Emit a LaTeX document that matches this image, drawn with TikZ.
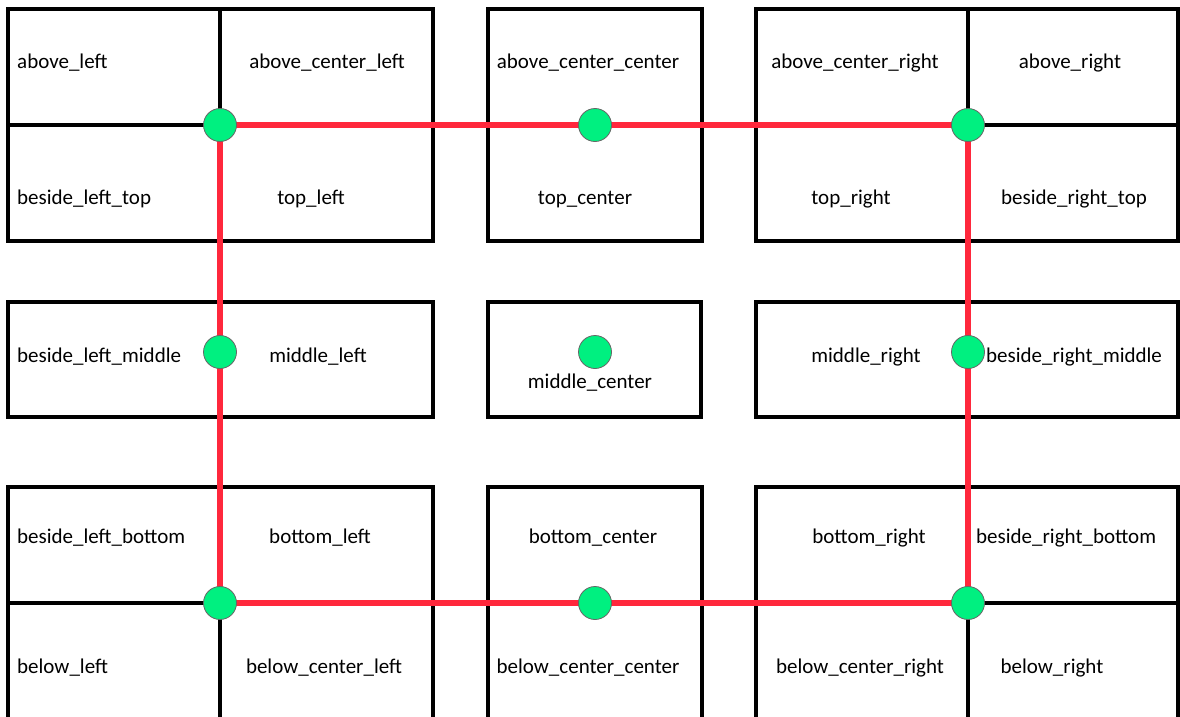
\documentclass[tikz,border=0pt]{standalone}
\usepackage{fontspec}
\setmainfont{Carlito}
\begin{document}
\begin{tikzpicture}[x=1pt,y=-1pt,
  box/.style={draw=black,line width=3.5pt},
  lbl/.style={anchor=base,inner sep=0pt,font=\fontsize{21}{24}\selectfont},
  lbll/.style={anchor=base west,inner sep=0pt,font=\fontsize{21}{24}\selectfont},
  dot/.style={circle,draw=black!60,line width=0.8pt,fill={rgb,255:red,0;green,240;blue,128},minimum size=33pt,inner sep=0pt},
  route/.style={draw={rgb,255:red,255;green,40;blue,60},line width=6pt}]
\useasboundingbox (0,0) rectangle (1180,717);
\begin{scope}
\clip (0,0) rectangle (1180,717);
% top row
\draw[box] (8,9) rectangle (433,241);
\draw[box] (220,9) -- (220,241) (8,125) -- (433,125);
\draw[box] (488,9) rectangle (702,241);
\draw[box] (756,9) rectangle (1178,241);
\draw[box] (968,9) -- (968,241) (756,125) -- (1178,125);
% middle row
\draw[box] (8,302) rectangle (433,417);
\draw[box] (488,302) rectangle (701,417);
\draw[box] (756,302) rectangle (1178,417);
% bottom row
\draw[box] (8,487) rectangle (433,740);
\draw[box] (220,487) -- (220,740) (8,603) -- (433,603);
\draw[box] (488,487) rectangle (702,740);
\draw[box] (756,487) rectangle (1178,740);
\draw[box] (968,487) -- (968,740) (756,603) -- (1178,603);
\end{scope}
% labels
\node[lbll] (t1) at (17,68) {above\_left};
\node[lbl] (t2) at (327,68) {above\_center\_left};
\node[lbl] (t3) at (588,68) {above\_center\_center};
\node[lbl] (t4) at (855,68) {above\_center\_right};
\node[lbl] (t5) at (1070,68) {above\_right};
\node[lbll] (t6) at (17,204) {beside\_left\_top};
\node[lbl] (t7) at (311,204) {top\_left};
\node[lbl] (t8) at (585,204) {top\_center};
\node[lbl] (t9) at (851,204) {top\_right};
\node[lbl] (t10) at (1074,204) {beside\_right\_top};
\node[lbll] (t11) at (17,362) {beside\_left\_middle};
\node[lbl] (t12) at (318,362) {middle\_left};
\node[lbl] (t13) at (590,388) {middle\_center};
\node[lbl] (t14) at (866,362) {middle\_right};
\node[lbll] (t15) at (986,362) {beside\_right\_middle};
\node[lbll] (t16) at (17,543) {beside\_left\_bottom};
\node[lbl] (t17) at (320,543) {bottom\_left};
\node[lbl] (t18) at (593,543) {bottom\_center};
\node[lbl] (t19) at (869,543) {bottom\_right};
\node[lbll] (t20) at (976,543) {beside\_right\_bottom};
\node[lbll] (t21) at (17,673) {below\_left};
\node[lbl] (t22) at (324,673) {below\_center\_left};
\node[lbl] (t23) at (588,673) {below\_center\_center};
\node[lbl] (t24) at (860,673) {below\_center\_right};
\node[lbl] (t25) at (1052,673) {below\_right};
% anchor coordinates
\coordinate (tl) at (220,125);
\coordinate (tc) at (595,125);
\coordinate (tr) at (968,125);
\coordinate (ml) at (220,352);
\coordinate (mc) at (595,352);
\coordinate (mr) at (968,352);
\coordinate (bl) at (220,603);
\coordinate (bc) at (595,603);
\coordinate (br) at (968,603);
% route
\draw[route] (tl) -- (tc) -- (tr) -- (mr) -- (br) -- (bc) -- (bl) -- (ml) -- cycle;
% dots
\foreach \p in {tl,tc,tr,ml,mc,mr,bl,bc,br} \node[dot] (d\p) at (\p) {};
\end{tikzpicture}
\end{document}
